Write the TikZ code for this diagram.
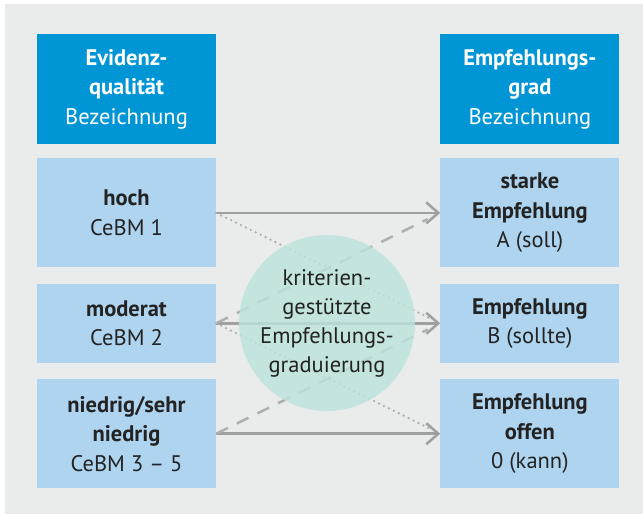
\documentclass[tikz,border=0pt]{standalone}
\usepackage{fontspec}
\setmainfont{PT Sans}
\usetikzlibrary{positioning,arrows.meta}

\definecolor{hgrund}{RGB}{234,236,235}
\definecolor{kopfblau}{RGB}{0,150,214}
\definecolor{zeilblau}{RGB}{174,212,239}
\definecolor{kreisgruen}{RGB}{187,227,221}
\definecolor{pfeilgrau}{RGB}{160,160,160}
\definecolor{strichgrau}{RGB}{175,175,175}
\definecolor{textdunkel}{RGB}{35,35,35}

\tikzset{
  kopf/.style={fill=kopfblau, text=white, minimum width=179pt, minimum height=110pt,
    align=center, inner sep=0pt, font=\fontsize{22.5}{29.5}\selectfont},
  stufe/.style={fill=zeilblau, text=textdunkel, minimum width=179pt, align=center,
    inner sep=0pt, font=\fontsize{22.5}{29.5}\selectfont},
  voll/.style={draw=pfeilgrau, line width=2.5pt, -{Straight Barb[length=12pt,width=21pt,line width=2.5pt]}},
  gestr/.style={draw=strichgrau, line width=2.5pt, dash pattern=on 13pt off 10pt, shorten >=14pt},
  punkt/.style={draw=strichgrau, line width=2.6pt, line cap=round, dash pattern=on 0pt off 5.5pt, shorten >=12pt},
}

\begin{document}
\begin{tikzpicture}[x=1pt,y=-1pt]
    \useasboundingbox (0,0) rectangle (643,515);
    \fill[hgrund] (5,4) rectangle (643,514);

    % linke Spalte
    \node[kopf] (evidenz) at (126.5,89) {\textbf{Evidenz-}\\\textbf{qualität}\\Bezeichnung};
    \node[stufe, minimum height=109pt, below=14pt of evidenz] (hoch) {\textbf{hoch}\\CeBM 1};
    \node[stufe, minimum height=79pt, below=16pt of hoch] (moderat) {\textbf{moderat}\\CeBM 2};
    \node[stufe, minimum height=109pt, below=16pt of moderat] (niedrig) {\textbf{niedrig/sehr}\\\textbf{niedrig}\\CeBM 3 -- 5};

    % rechte Spalte
    \node[kopf, right=224pt of evidenz] (grad) {\textbf{Empfehlungs-}\\\textbf{grad}\\Bezeichnung};
    \node[stufe, minimum height=109pt, right=224pt of hoch] (stark) {\textbf{starke}\\\textbf{Empfehlung}\\A (soll)};
    \node[stufe, minimum height=79pt, right=224pt of moderat] (empf) {\textbf{Empfehlung}\\B (sollte)};
    \node[stufe, minimum height=109pt, right=224pt of niedrig] (offen) {\textbf{Empfehlung}\\\textbf{offen}\\0 (kann)};

    % Verbindungen
    \draw[voll] (hoch) -- (stark);
    \draw[voll] (moderat) -- (empf);
    \draw[voll] (niedrig.east) -- (offen.west);
    \draw[gestr] (moderat.east) -- (stark.west);
    \draw[gestr] (niedrig.east) -- (empf.west);
    \draw[punkt] (hoch.east) -- (empf.west);
    \draw[punkt] (moderat.east) -- (offen.west);

    % Kreis
    \fill[kreisgruen, fill opacity=0.82] (327,323) circle (88pt);
    \node[text=textdunkel, align=center, font=\fontsize{22.5}{29}\selectfont] (kriterien) at (327,323)
      {kriterien-\\gestützte\\Empfehlungs-\\graduierung};
\end{tikzpicture}
\end{document}
